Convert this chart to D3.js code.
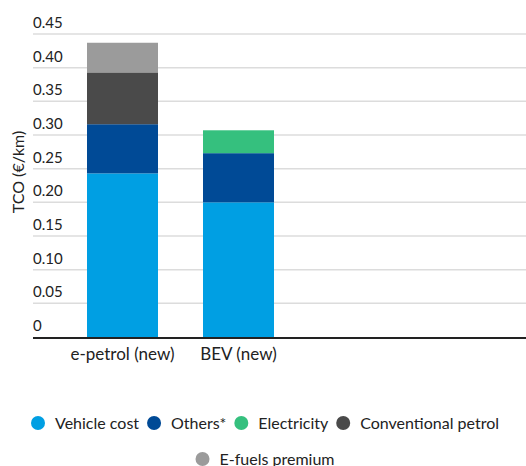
<!DOCTYPE html>
<html>
<head>
<meta charset="utf-8">
<script src="https://cdn.jsdelivr.net/npm/d3@7"></script>
<style>
  body { margin: 0; background: #fff; }
  svg { display: block; font-family: Lato, "Noto Sans", sans-serif; }
</style>
</head>
<body>
<div id="chart"></div>
<script>
// Categories and series (€/km)
var categories = ["e-petrol (new)", "BEV (new)"];
var seriesNames = ["Vehicle cost", "Others*", "Electricity", "Conventional petrol", "E-fuels premium"];
var vehicleCost = [0.243, 0.200];
var others = [0.073, 0.073];
var electricity = [0, 0.034];
var conventionalPetrol = [0.077, 0];
var efuelsPremium = [0.044, 0];
var yTicks = [0, 0.05, 0.10, 0.15, 0.20, 0.25, 0.30, 0.35, 0.40, 0.45];
var colors = ["#009fe3", "#004a96", "#35c07e", "#4a4a4a", "#9b9b9b"];

var width = 526, height = 466;
var svg = d3.select("#chart").append("svg")
  .attr("width", width).attr("height", height);

// rows for stacking
var rows = categories.map(function(c, i) {
  return {
    cat: c,
    "Vehicle cost": vehicleCost[i],
    "Others*": others[i],
    "Electricity": electricity[i],
    "Conventional petrol": conventionalPetrol[i],
    "E-fuels premium": efuelsPremium[i]
  };
});
var stacked = d3.stack().keys(seriesNames)(rows);

var plotLeft = 33, plotRight = 526;
var y = d3.scaleLinear().domain([0, 0.45]).range([337, 34]);
var x = d3.scaleBand().domain(categories).range([87, 274])
  .paddingInner(0.388).paddingOuter(0);

// gridlines
svg.append("g").selectAll("line")
  .data(yTicks.slice(1))
  .enter().append("line")
  .attr("x1", plotLeft).attr("x2", plotRight)
  .attr("y1", function(d) { return y(d); })
  .attr("y2", function(d) { return y(d); })
  .attr("stroke", "#dcdcdc").attr("stroke-width", 1.5);

// tick labels sit above their gridline
svg.append("g").selectAll("text")
  .data(yTicks)
  .enter().append("text")
  .attr("x", plotLeft)
  .attr("y", function(d) { return y(d) - 6; })
  .attr("fill", "#222")
  .attr("font-size", "15px")
  .text(function(d) { return d === 0 ? "0" : d3.format(".2f")(d); });

// bars
var layers = svg.append("g").selectAll("g")
  .data(stacked)
  .enter().append("g")
  .attr("fill", function(d, i) { return colors[i]; });

layers.selectAll("rect")
  .data(function(d) { return d; })
  .enter().append("rect")
  .attr("x", function(d) { return x(d.data.cat); })
  .attr("width", x.bandwidth())
  .attr("y", function(d) { return y(d[1]); })
  .attr("height", function(d) { return y(d[0]) - y(d[1]); });

// x axis line
svg.append("line")
  .attr("x1", plotLeft).attr("x2", plotRight)
  .attr("y1", y(0) + 1).attr("y2", y(0) + 1)
  .attr("stroke", "#222").attr("stroke-width", 2);

// x labels
svg.append("g").selectAll("text")
  .data(categories)
  .enter().append("text")
  .attr("x", function(d) { return x(d) + x.bandwidth() / 2; })
  .attr("y", 360)
  .attr("text-anchor", "middle")
  .attr("fill", "#222")
  .attr("font-size", "17px")
  .text(function(d) { return d; });

// y axis title
svg.append("text")
  .attr("transform", "translate(24,172) rotate(-90)")
  .attr("text-anchor", "middle")
  .attr("fill", "#222")
  .attr("font-size", "16px")
  .text("TCO (€/km)");

// legend, two centered rows
var legendRows = [seriesNames.slice(0, 4), seriesNames.slice(4)];
var legendY = [423, 459];
legendRows.forEach(function(names, r) {
  var g = svg.append("g");
  var cx = 0;
  names.forEach(function(name) {
    var idx = seriesNames.indexOf(name);
    var item = g.append("g").attr("transform", "translate(" + cx + ",0)");
    item.append("circle").attr("cx", 7).attr("cy", 0).attr("r", 7)
      .attr("fill", colors[idx]);
    var t = item.append("text").attr("x", 24).attr("y", 5.5)
      .attr("fill", "#222").attr("font-size", "16px").text(name);
    cx += 24 + t.node().getComputedTextLength() + 8;
  });
  var w = cx - 8;
  g.attr("transform", "translate(" + (265 - w / 2) + "," + legendY[r] + ")");
});
</script>
</body>
</html>
